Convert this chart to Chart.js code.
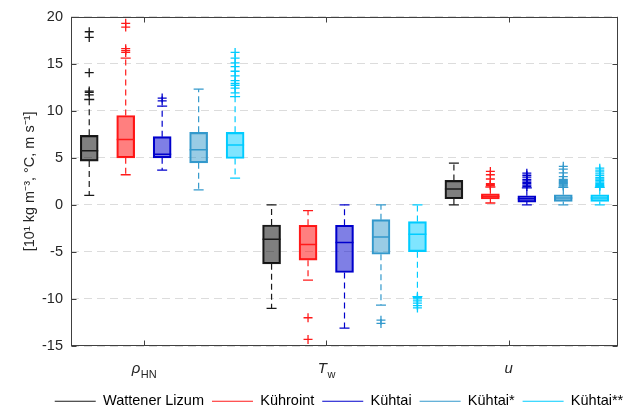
<!DOCTYPE html>
<html><head><meta charset="utf-8">
<script src="https://cdn.jsdelivr.net/npm/chart.js@4.4.1/dist/chart.umd.min.js"></script>
<style>html,body{margin:0;padding:0;background:#fff;}#wrap{width:630px;height:409px;}</style>
</head><body><div id="wrap"><canvas id="c" width="630" height="409"></canvas></div>
<script>
// ---- data ----
const categoryBase = ['ρ', 'T', 'u'];
const categorySub = ['HN', 'w', ''];
const stations = ['Wattener Lizum', 'Kühroint', 'Kühtai', 'Kühtai*', 'Kühtai**'];
const yTicks = [-15, -10, -5, 0, 5, 10, 15, 20];

// rows: stations, columns: categories [ρHN, Tw, u]
const whiskerLow = [
  [1.0, -11.0, 0.0],
  [3.2, -8.0, 0.2],
  [3.7, -13.1, 0.0],
  [1.6, -10.65, 0.0],
  [2.85, -9.75, 0.0]
];
const q1 = [
  [4.65, -6.27, 0.65],
  [5.0, -5.88, 0.62],
  [5.0, -7.19, 0.30],
  [4.47, -5.25, 0.37],
  [4.93, -4.97, 0.37]
];
const median = [
  [5.74, -3.66, 1.68],
  [6.94, -4.22, 0.90],
  [5.39, -4.01, 0.65],
  [5.85, -3.41, 0.72],
  [6.37, -3.13, 0.72]
];
const q3 = [
  [7.39, -2.14, 2.60],
  [9.5, -2.17, 1.18],
  [7.25, -2.17, 0.97],
  [7.71, -1.57, 1.08],
  [7.71, -1.78, 1.08]
];
const whiskerHigh = [
  [11.2, 0.0, 4.43],
  [15.6, -0.62, 1.9],
  [10.5, 0.0, 1.8],
  [12.3, 0.0, 1.85],
  [11.5, 0.0, 1.85]
];
const outliersLizum = [[11.7, 11.95, 12.1, 14.05, 17.8, 18.4], [], []];
const outliersKuehroint = [[16.2, 16.4, 16.6, 18.9, 19.3], [-12.0, -14.3], [2.05, 2.15, 2.25, 2.75, 3.2, 3.55]];
const outliersKuehtai = [[11.05, 11.35], [], [1.95, 2.1, 2.25, 2.4, 2.55, 2.7, 2.95, 3.15, 3.37]];
const outliersKuehtaiS = [[], [-12.25, -12.6], [2.0, 2.1, 2.2, 2.3, 2.4, 2.5, 2.6, 2.7, 3.0, 3.4, 3.8, 4.1]];
const outliersKuehtaiSS = [[11.9, 12.4, 12.7, 12.9, 13.2, 13.7, 14.2, 14.7, 15.1, 15.6, 16.2],
  [-9.85, -10.0, -10.2, -10.45, -10.7, -10.95],
  [1.95, 2.05, 2.15, 2.3, 2.45, 2.6, 2.75, 2.9, 3.1, 3.3, 3.5, 3.7, 3.9]];
const outliers = [outliersLizum, outliersKuehroint, outliersKuehtai, outliersKuehtaiS, outliersKuehtaiSS];

// ---- styles ----
const edgeColors = ['#1a1a1a', '#ff1a1a', '#0000cc', '#3399cc', '#00ccff'];
const fillColors = ['rgba(0,0,0,0.5)', 'rgba(255,0,0,0.5)', 'rgba(0,0,204,0.5)', 'rgba(51,153,204,0.5)', 'rgba(0,204,255,0.5)'];
const groupOffsets = [-0.3, -0.1, 0.1, 0.3, 0.5];
const FONT = 'Liberation Sans';
const TXT = '#262626';
Chart.defaults.font.family = FONT;

const pos = (ci, si) => ci + 1 + groupOffsets[si];
const cats = [0, 1, 2];

const datasets = [];
stations.forEach((name, si) => {
  datasets.push({
    type: 'bar', label: name, order: 3,
    data: cats.map(ci => ({x: pos(ci, si), y: [q1[si][ci], q3[si][ci]]})),
    backgroundColor: fillColors[si], borderColor: edgeColors[si], borderWidth: 1.5,
    borderSkipped: false, grouped: false, barThickness: 18
  });
});
stations.forEach((name, si) => {
  const w = [];
  cats.forEach(ci => {
    w.push({x: pos(ci, si), y: q3[si][ci]}, {x: pos(ci, si), y: whiskerHigh[si][ci]}, {x: pos(ci, si), y: null});
    w.push({x: pos(ci, si), y: q1[si][ci]}, {x: pos(ci, si), y: whiskerLow[si][ci]}, {x: pos(ci, si), y: null});
  });
  datasets.push({type: 'line', label: name + ' whiskers', order: 5, data: w, borderColor: edgeColors[si],
    borderWidth: 1.2, borderDash: [6, 4], pointRadius: 0, spanGaps: false, fill: false});
  const caps = [];
  cats.forEach(ci => { caps.push({x: pos(ci, si), y: whiskerHigh[si][ci]}, {x: pos(ci, si), y: whiskerLow[si][ci]}); });
  datasets.push({type: 'scatter', label: name + ' caps', order: 1, data: caps, pointStyle: 'line',
    pointRadius: 5, pointBorderColor: edgeColors[si], pointBorderWidth: 1.3, borderColor: edgeColors[si]});
  datasets.push({type: 'scatter', label: name + ' median', order: 1,
    data: cats.map(ci => ({x: pos(ci, si), y: median[si][ci]})), pointStyle: 'line',
    pointRadius: 9, pointBorderColor: edgeColors[si], pointBorderWidth: 1.5, borderColor: edgeColors[si]});
  const outs = [];
  cats.forEach(ci => outliers[si][ci].forEach(v => outs.push({x: pos(ci, si), y: v})));
  datasets.push({type: 'scatter', label: name + ' outliers', order: 1, data: outs, pointStyle: 'cross',
    pointRadius: 4.5, pointBorderColor: edgeColors[si], pointBorderWidth: 1.3, borderColor: edgeColors[si]});
});

const framePlugin = {
  id: 'frame',
  afterLayout(chart) {
    const lg = chart.legend;
    const shift = 339 - (lg.left + lg.right) / 2;
    lg.left += shift; lg.right += shift;
  },
  afterDraw(chart) {
    const {ctx, chartArea: a, scales: {x, y}} = chart;
    ctx.save();
    ctx.strokeStyle = '#404040';
    ctx.lineWidth = 1;
    const L = Math.round(a.left) + 0.5, R = Math.round(a.right) - 0.5, T = Math.round(a.top) + 0.5, B = Math.round(a.bottom) - 0.5;
    ctx.strokeRect(L, T, R - L, B - T);
    ctx.beginPath();
    yTicks.forEach(v => {
      const py = Math.round(y.getPixelForValue(v)) + 0.5;
      ctx.moveTo(L, py); ctx.lineTo(L + 5, py);
      ctx.moveTo(R, py); ctx.lineTo(R - 5, py);
    });
    cats.forEach(ci => {
      const px = Math.round(x.getPixelForValue(ci + 1)) + 0.5;
      ctx.moveTo(px, B); ctx.lineTo(px, B - 5);
      ctx.moveTo(px, T); ctx.lineTo(px, T + 5);
    });
    ctx.stroke();
    // category labels: italic symbol + subscript
    ctx.fillStyle = TXT;
    ctx.textBaseline = 'alphabetic';
    const mainFont = 'italic 15px "' + FONT + '"';
    const subFont = '11px "' + FONT + '"';
    cats.forEach(ci => {
      const cx = x.getPixelForValue(ci + 1);
      ctx.font = mainFont; const w1 = ctx.measureText(categoryBase[ci]).width;
      ctx.font = subFont; const w2 = ctx.measureText(categorySub[ci]).width;
      const start = cx - (w1 + w2) / 2;
      ctx.font = mainFont; ctx.textAlign = 'left';
      ctx.fillText(categoryBase[ci], start, 373);
      ctx.font = subFont;
      ctx.fillText(categorySub[ci], start + w1 + 0.5, 378);
    });
    ctx.restore();
  }
};

new Chart(document.getElementById('c'), {
  type: 'bar',
  data: {datasets},
  plugins: [framePlugin],
  options: {
    responsive: false, animation: false, events: [],
    layout: {padding: {left: 0, right: 12, top: 16, bottom: 0}},
    scales: {
      x: {
        type: 'linear', min: 0.6, max: 3.6, offset: false,
        grid: {display: false, offset: false}, border: {display: false},
        ticks: {display: false},
        afterFit: s => { s.height = 40; }
      },
      y: {
        type: 'linear', min: -15, max: 20, beginAtZero: false,
        afterBuildTicks: s => { s.ticks = yTicks.map(v => ({value: v})); },
        grid: {color: '#dcdcdc', lineWidth: 1, drawTicks: false},
        border: {display: false, dash: [8, 5]},
        ticks: {color: TXT, font: {size: 14.5}, padding: 8},
        title: {display: true, text: '[10¹ kg m⁻³, °C, m s⁻¹]', color: TXT, font: {size: 14.5}, padding: {top: 21, bottom: 0}},
        afterFit: s => { s.width = 71; }
      }
    },
    plugins: {
      tooltip: {enabled: false},
      legend: {
        position: 'bottom', maxHeight: 23,
        labels: {
          usePointStyle: true, pointStyleWidth: 41, padding: 8, color: '#000', font: {size: 14.5},
          generateLabels: chart => stations.map((name, si) => ({
            text: name, datasetIndex: si, strokeStyle: edgeColors[si], fillStyle: edgeColors[si],
            lineWidth: 1.2, pointStyle: 'line', hidden: false, fontColor: '#000'
          }))
        }
      }
    }
  }
});
</script></body></html>
